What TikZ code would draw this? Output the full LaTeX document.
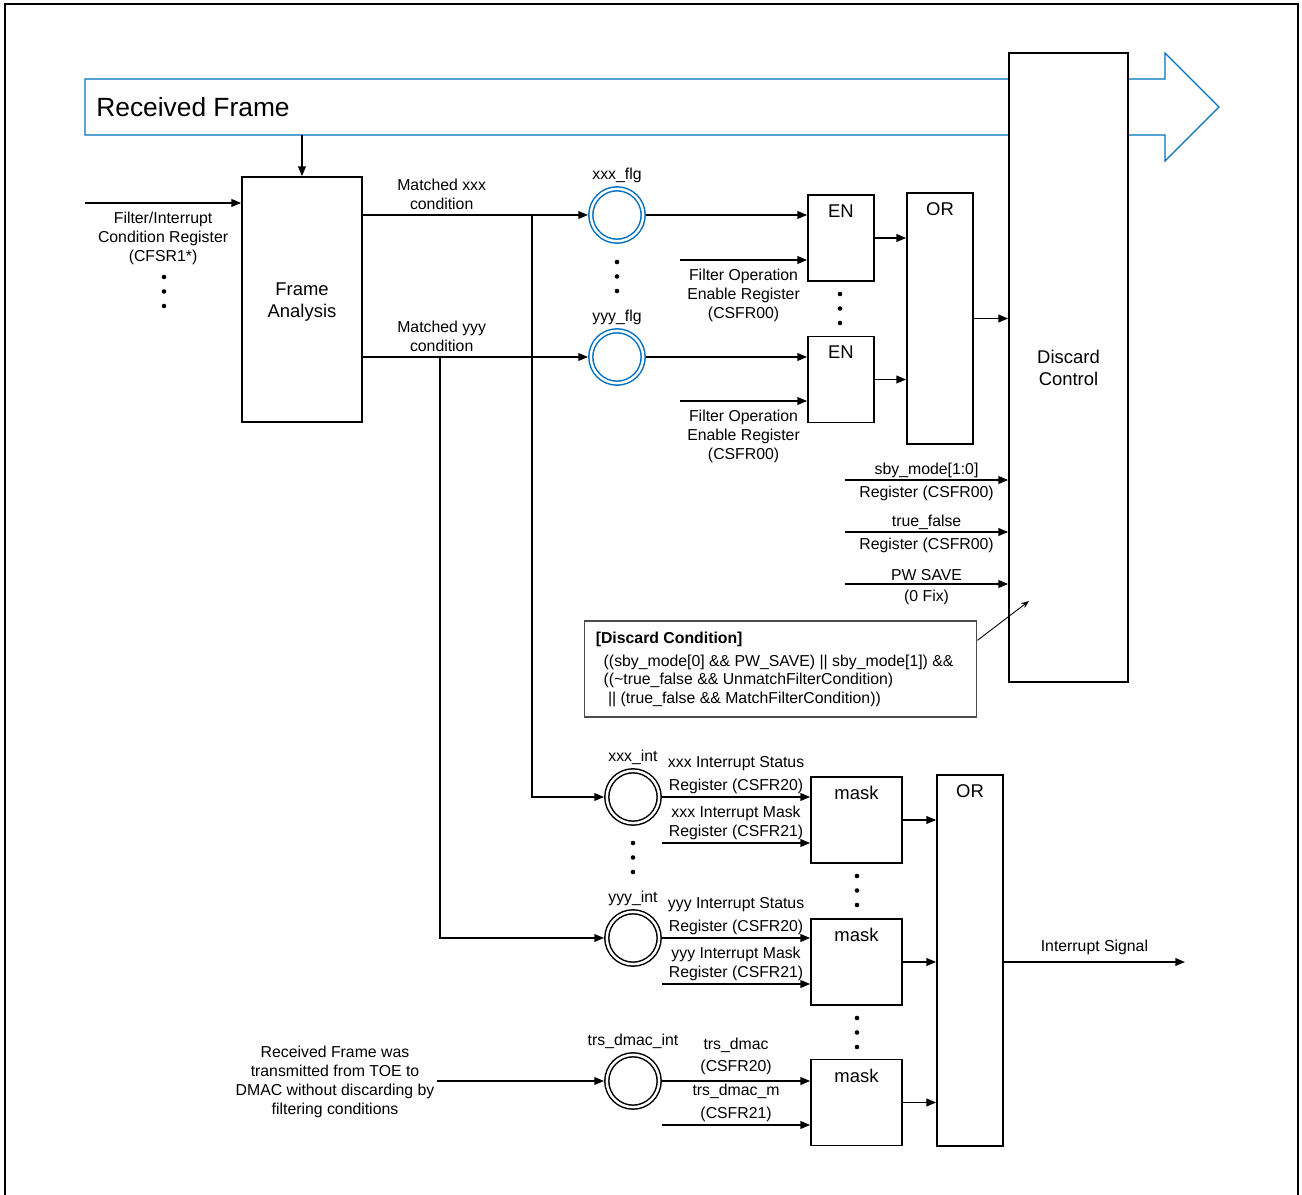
\documentclass[tikz,border=0pt]{standalone}
\usepackage{fontspec}
\setmainfont{Liberation Sans}
\usetikzlibrary{arrows.meta, calc}

\definecolor{framecol}{RGB}{0,112,192}

\tikzset{
  every node/.style={font=\fontsize{9}{10.8}\selectfont},
  blk/.style={draw, line width=1pt, fill=white, align=center, inner sep=0pt,
    font=\fontsize{10.5}{12.5}\selectfont},
  gate/.style={blk, minimum width=1.32cm},
  maskbox/.style={blk, minimum width=1.82cm, minimum height=1.72cm},
  toptext/.style={label={[anchor=north, inner sep=5.6pt,
    font=\fontsize{10.5}{12.5}\selectfont]north:#1}},
  ring/.style={circle, draw=#1, double=white, double distance=1.4pt,
    line width=0.85pt, minimum size=29.8pt, inner sep=0pt, outer sep=1.6pt},
  sig/.style={->, line width=0.75pt},
  lbl/.style={align=center, inner sep=1.5pt}
}

\begin{document}
\begin{tikzpicture}[x=0.02cm, y=-0.02cm, >={Triangle[length=5.5pt, width=4.4pt]}]
  % Bounding box fixe
  \path[use as bounding box] (0,0) rectangle (1302,1195);

  % Outer frame
  \draw[line width=1.1pt] (5,4) rectangle (1298,1240);

  % Received frame arrow
  \draw[framecol, line width=0.7pt] (85,79) -- (1165,79) -- (1165,53) -- (1219,107)
    -- (1165,161) -- (1165,135) -- (85,135) -- cycle;
  \node[anchor=west, inner sep=0pt, font=\fontsize{15}{18}\selectfont] (rftxt)
    at (96,107) {Received Frame};

  % Filter part
  \node[blk, minimum width=2.4cm, minimum height=4.9cm] (fa) at (302,299.5) {};
  \node[blk, draw=none, fill=none] (fatxt) at (302,302) {Frame\\Analysis};
  \node[blk, minimum width=2.38cm, minimum height=12.58cm] (dc) at (1068.5,367.5) {Discard\\Control};
  \node[ring=framecol, label={[lbl]above:xxx\_flg}] (xflg) at (617,215) {};
  \node[ring=framecol, label={[lbl]above:yyy\_flg}] (yflg) at (617,357) {};
  \node[gate, minimum height=1.72cm, toptext=EN] (en1) at (841,238) {};
  \node[gate, minimum height=1.72cm, toptext=EN] (en2) at (841,379.5) {};
  \node[gate, minimum height=5.02cm, toptext=OR] (or1) at (940,318.5) {};

  % Interrupt part
  \node[ring=black, label={[lbl]above:xxx\_int}] (xint) at (633,797) {};
  \node[ring=black, label={[lbl]above:yyy\_int}] (yint) at (633,938) {};
  \node[ring=black, label={[lbl]above:trs\_dmac\_int}] (tint) at (633,1081) {};
  \node[maskbox, toptext=mask] (mk1) at (856.5,820) {};
  \node[maskbox, toptext=mask] (mk2) at (856.5,962) {};
  \node[maskbox, toptext=mask] (mk3) at (856.5,1102.5) {};
  \node[gate, minimum height=7.42cm, toptext=OR] (or2) at (970,960.5) {};

  % Dots
  \foreach \px/\py in {164/277, 617/262, 840/294, 633/843, 857/876, 857/1018}
    \foreach \d in {0,14.5,29}
      \fill (\px,\py+\d) circle (1.3pt);

  % Frame analysis inputs
  \coordinate (rfb) at (302,135);
  \draw[sig] (rfb) -- (fa.north);
  \coordinate (cfin) at (85,203);
  \draw[sig] (cfin) -- (fa.west |- cfin)
    node[lbl, midway, below=3.4pt] {Filter/Interrupt\\Condition Register\\(CFSR1*)};

  % Matched conditions
  \draw[sig] (fa.east |- xflg) -- (xflg.west)
    node[lbl, pos=0.35, above=1.1pt] {Matched xxx\\condition};
  \draw[sig] (fa.east |- yflg) -- (yflg.west)
    node[lbl, pos=0.35, above=1.1pt] {Matched yyy\\condition};
  \coordinate (bx) at (532,215);
  \draw[sig] (bx) |- (xint.west);
  \coordinate (by) at (440,357);
  \draw[sig] (by) |- (yint.west);

  % Enable gates
  \draw[sig] (xflg.east) -- (en1.west |- xflg);
  \coordinate (fen1) at (680,260);
  \draw[sig] (fen1) -- (en1.west |- fen1)
    node[lbl, midway, below=3.4pt] {Filter Operation\\Enable Register\\(CSFR00)};
  \draw[sig] (yflg.east) -- (en2.west |- yflg);
  \coordinate (fen2) at (680,401);
  \draw[sig] (fen2) -- (en2.west |- fen2)
    node[lbl, midway, below=3.4pt] {Filter Operation\\Enable Register\\(CSFR00)};
  \draw[sig] (en1.east) -- (or1.west |- en1.east);
  \draw[sig] (en2.east) -- (or1.west |- en2.east);
  \draw[sig] (or1.east) -- (dc.west |- or1.east);

  % Discard control registers
  \coordinate (sby) at (845,480);
  \draw[sig] (sby) -- (dc.west |- sby)
    node[lbl, midway, above=-0.8pt] {sby\_mode[1:0]}
    node[lbl, midway, below=1.8pt] {Register (CSFR00)};
  \coordinate (tf) at (845,532);
  \draw[sig] (tf) -- (dc.west |- tf)
    node[lbl, midway, above=-0.8pt] {true\_false}
    node[lbl, midway, below=1.8pt] {Register (CSFR00)};
  \coordinate (pws) at (845,584);
  \draw[sig] (pws) -- (dc.west |- pws)
    node[lbl, midway, above] {PW SAVE}
    node[lbl, midway, below=1.8pt] {(0 Fix)};

  % Discard condition note
  \node[draw=black!70, line width=0.6pt, minimum width=7.86cm, minimum height=1.92cm]
    (cond) at (780.5,669) {};
  \node[anchor=north west, align=left, inner sep=0pt] (condtxt)
    at ([xshift=6.8pt, yshift=-6.4pt]cond.north west)
    {\textbf{[Discard Condition]}\\[2pt]
     \hspace{4.5pt}((sby\_mode[0] \&\& PW\_SAVE) || sby\_mode[1]) \&\&\\
     \hspace{4.5pt}((\textasciitilde true\_false \&\& UnmatchFilterCondition)\\
     \hspace{7pt}|| (true\_false \&\& MatchFilterCondition))};
  \coordinate (dcnote) at (1029,601);
  \draw[->, line width=0.5pt, >={Stealth[length=4.5pt, width=3.5pt]}]
    ([yshift=-11.3pt]cond.north east) -- (dcnote);

  % Interrupt registers
  \draw[sig] (xint.east) -- (mk1.west |- xint)
    node[lbl, midway, above] {xxx Interrupt Status\\[2pt]Register (CSFR20)};
  \coordinate (xmk) at (662,843);
  \draw[sig] (xmk) -- (mk1.west |- xmk)
    node[lbl, midway, above] {xxx Interrupt Mask\\Register (CSFR21)};
  \draw[sig] (yint.east) -- (mk2.west |- yint)
    node[lbl, midway, above] {yyy Interrupt Status\\[2pt]Register (CSFR20)};
  \coordinate (ymk) at (662,984);
  \draw[sig] (ymk) -- (mk2.west |- ymk)
    node[lbl, midway, above] {yyy Interrupt Mask\\Register (CSFR21)};

  \node[lbl] (rfx) at (335,1081.5) {Received Frame was\\transmitted from TOE to\\DMAC without discarding by\\filtering conditions};
  \draw[sig] (rfx.east |- tint) -- (tint.west);
  \draw[sig] (tint.east) -- (mk3.west |- tint)
    node[lbl, midway, above=1.6pt] {trs\_dmac\\[2pt](CSFR20)};
  \coordinate (tmk) at (662,1125);
  \draw[sig] (tmk) -- (mk3.west |- tmk)
    node[lbl, midway, above] {trs\_dmac\_m\\[2pt](CSFR21)};

  % Interrupt output
  \draw[sig] (mk1.east) -- (or2.west |- mk1.east);
  \draw[sig] (mk2.east) -- (or2.west |- mk2.east);
  \draw[sig] (mk3.east) -- (or2.west |- mk3.east);
  \coordinate (isig) at (1185,962);
  \draw[sig] (or2.east |- isig) -- (isig)
    node[lbl, midway, above, yshift=2pt] {Interrupt Signal};
\end{tikzpicture}
\end{document}
